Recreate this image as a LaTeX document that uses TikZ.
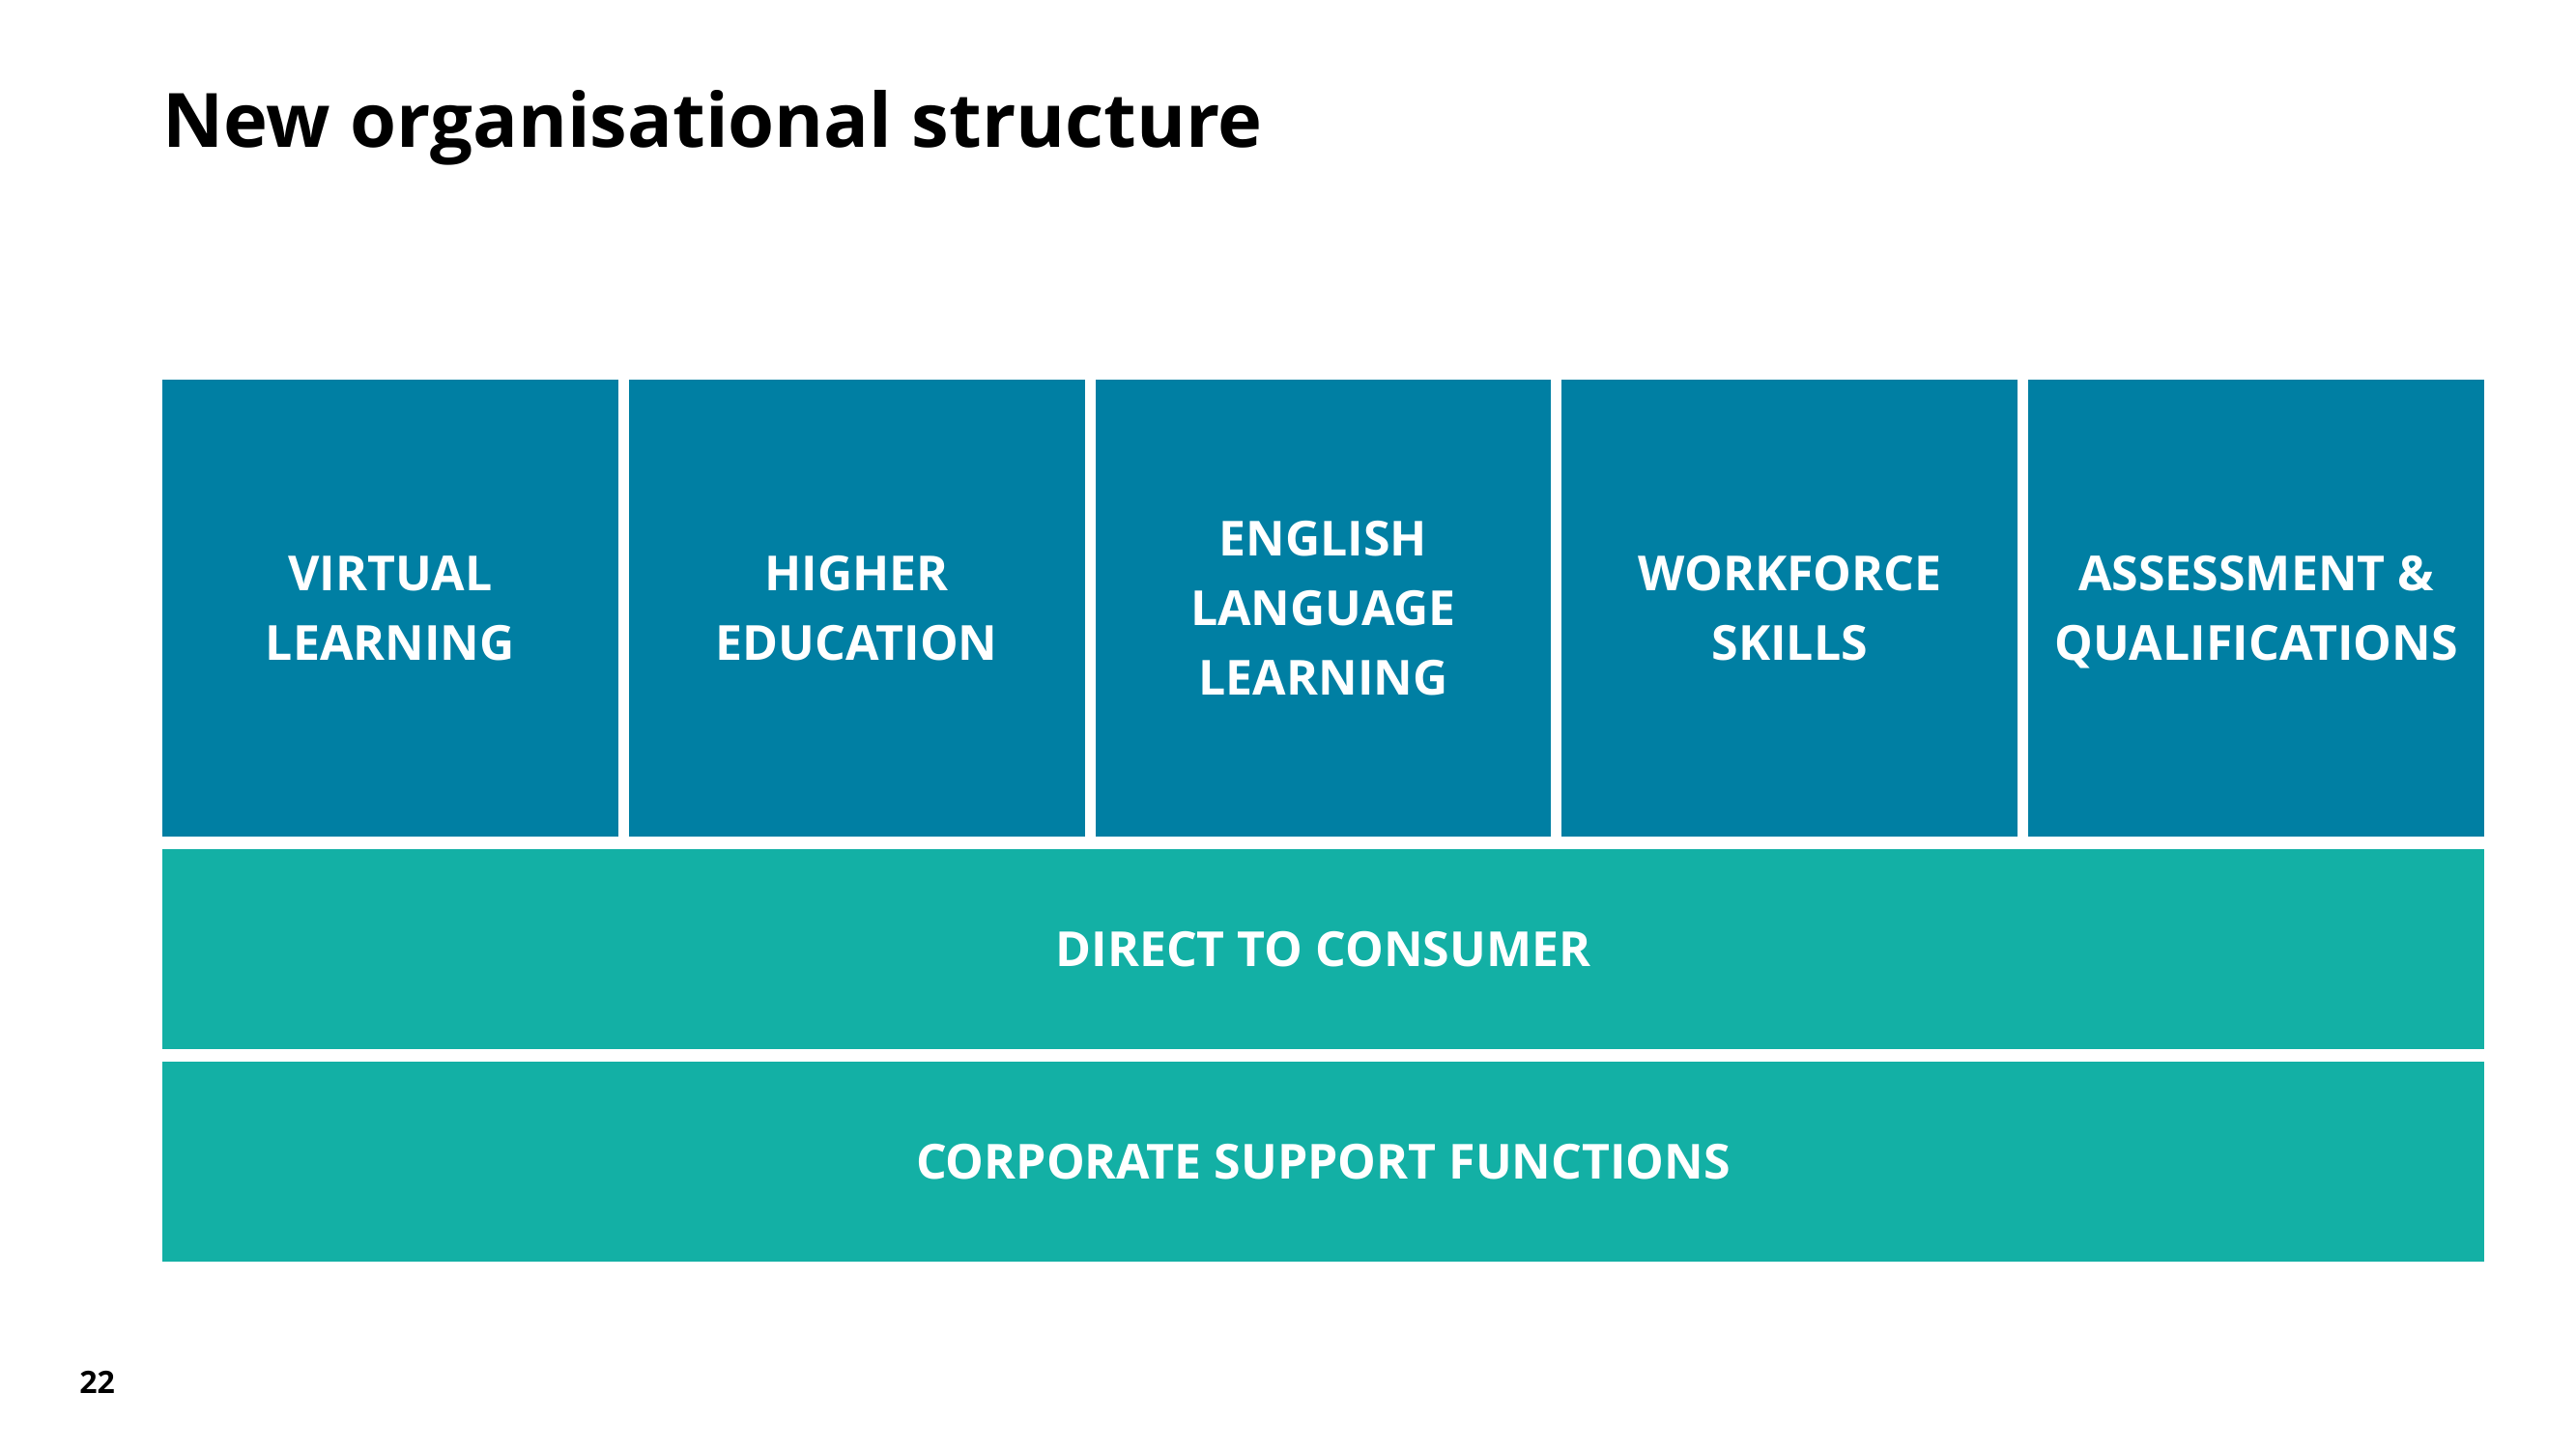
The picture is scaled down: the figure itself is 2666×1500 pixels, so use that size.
\documentclass[tikz,border=0pt]{standalone}
\usepackage{fontspec}
\setmainfont{Open Sans}
\definecolor{unitblue}{HTML}{007FA3}
\definecolor{bandteal}{HTML}{13B0A5}
\tikzset{
  unitbox/.style={rectangle, fill=unitblue, draw=none, inner sep=0pt,
    minimum width=235.9pt, minimum height=236.5pt, text=white, align=center,
    font=\bfseries\fontsize{25}{36}\selectfont},
  bandbox/.style={rectangle, fill=bandteal, draw=none, inner sep=0pt,
    minimum width=1201.5pt, minimum height=103.5pt, text=white, align=center,
    font=\bfseries\fontsize{25}{36}\selectfont},
  titletext/.style={anchor=base west, inner sep=0pt, font=\bfseries\fontsize{38.85}{46}\selectfont},
  pagenum/.style={anchor=base west, inner sep=0pt, font=\bfseries\fontsize{16}{19}\selectfont}
}
\begin{document}
\begin{tikzpicture}[x=0.5pt,y=-0.5pt]
\useasboundingbox[fill=white] (0,0) rectangle (2666,1500);
\node[titletext] (title) at (168,152.7) {New organisational structure};
\node[unitbox] (vl) at (403.9,629.5) {VIRTUAL\\LEARNING};
\node[unitbox] (he) at (886.7,629.5) {HIGHER\\EDUCATION};
\node[unitbox] (ell) at (1369.5,629.5) {ENGLISH\\LANGUAGE\\LEARNING};
\node[unitbox] (ws) at (1852.3,629.5) {WORKFORCE\\SKILLS};
\node[unitbox] (aq) at (2335.1,629.5) {ASSESSMENT \&\\\smash{Q}UALIFICATIONS};
\node[bandbox] (dtc) at (1369.5,982.5) {DIRECT TO CONSUMER};
\node[bandbox] (csf) at (1369.5,1202.5) {CORPORATE SUPPORT FUNCTIONS};
\node[pagenum] (pg) at (82,1442) {22};
\end{tikzpicture}
\end{document}
